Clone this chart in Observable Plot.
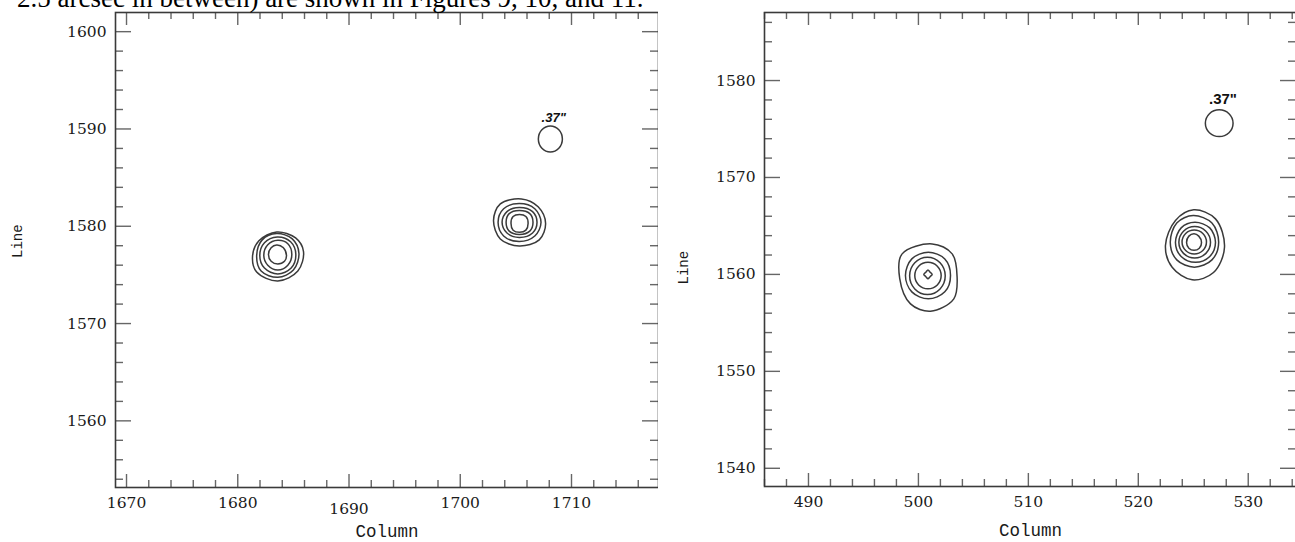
<!DOCTYPE html>
<html><head><meta charset="utf-8">
<script src="https://cdn.jsdelivr.net/npm/d3@7"></script>
<script src="https://cdn.jsdelivr.net/npm/@observablehq/plot@0.6"></script>
<style>
html,body{margin:0;padding:0;background:#fff;width:1295px;height:542px;overflow:hidden;position:relative}
#left{position:absolute;left:0;top:0;width:658px;height:542px;overflow:hidden}
#right{position:absolute;left:660px;top:0;width:640px;height:542px;overflow:hidden}
#caption{position:absolute;left:17px;top:-15.5px;font:27px/1 "Liberation Serif","Times New Roman",serif;white-space:nowrap;color:#000;z-index:2}
</style></head><body>
<div id="left"></div><div id="right"></div>
<div id="caption">2.5 arcsec in between) are shown in Figures 9, 10, and 11.</div>
<script>
// ---------- Left panel data (Column / Line) ----------
const leftXDomain = [1669.01, 1717.82];
const leftYDomain = [1553.15, 1601.97];
const leftXTicks = [1670, 1680, 1690, 1700, 1710];
const leftYTicks = [1560, 1570, 1580, 1590, 1600];
const leftLoweredTick = 1690;
// contours, each as [column, line] points: E, NE, N, NW, W, SW, S, SE
const leftSourceA = [
  [[1685.91,1577.4],[1685.2,1578.8],[1683.5,1579.41],[1681.9,1578.5],[1681.33,1576.95],[1681.7,1575.3],[1683.6,1574.38],[1685.4,1575.4]],
  [[1685.5,1577.2],[1684.9,1578.7],[1683.5,1579.25],[1682.2,1578.6],[1681.7,1577.0],[1682.1,1575.4],[1683.6,1574.75],[1685.0,1575.5]],
  [[1685.22,1577.1],[1684.75,1578.4],[1683.55,1578.9],[1682.4,1578.3],[1681.98,1577.0],[1682.4,1575.7],[1683.6,1575.1],[1684.8,1575.7]],
  [[1684.86,1577.1],[1684.5,1578.2],[1683.6,1578.55],[1682.7,1578.1],[1682.34,1577.0],[1682.7,1576.0],[1683.6,1575.5],[1684.5,1576.0]],
  [[1684.38,1577.0],[1684.1,1577.8],[1683.5,1578.08],[1683.0,1577.8],[1682.76,1577.1],[1683.0,1576.4],[1683.6,1576.12],[1684.2,1576.4]]
];
const leftSourceB = [
  [[1707.67,1580.3],[1707.0,1582.0],[1705.5,1582.81],[1703.6,1582.3],[1702.99,1580.6],[1703.6,1578.7],[1705.3,1577.97],[1707.1,1578.6]],
  [[1707.26,1580.4],[1706.7,1581.8],[1705.3,1582.34],[1703.9,1581.8],[1703.4,1580.4],[1703.9,1579.0],[1705.3,1578.44],[1706.7,1579.0]],
  [[1706.9,1580.4],[1706.5,1581.5],[1705.3,1581.93],[1704.2,1581.5],[1703.76,1580.4],[1704.2,1579.3],[1705.3,1578.85],[1706.5,1579.3]],
  [[1706.54,1580.4],[1706.25,1581.3],[1705.3,1581.62],[1704.4,1581.3],[1704.12,1580.4],[1704.4,1579.5],[1705.3,1579.16],[1706.25,1579.5]],
  [[1706.1,1580.3],[1705.9,1581.0],[1705.33,1581.2],[1704.75,1581.0],[1704.56,1580.3],[1704.75,1579.6],[1705.33,1579.38],[1705.9,1579.6]]
];
const leftBeam = [
  [[1709.18,1588.97],[1708.86,1589.92],[1708.1,1590.31],[1707.34,1589.92],[1707.02,1588.97],[1707.34,1588.02],[1708.1,1587.63],[1708.86,1588.02]]
];
const leftBeamLabel = [{col: 1708.4, line: 1590.75, text: '.37"'}];

// ---------- Right panel data ----------
const rightXDomain = [486.0, 534.39];
const rightYDomain = [1538.12, 1587.02];
const rightXTicks = [490, 500, 510, 520, 530];
const rightYTicks = [1540, 1550, 1560, 1570, 1580];
const rightSourceA = [
  [[503.52,1559.71],[503.07,1562.12],[501.25,1563.15],[498.52,1562.12],[498.30,1559.57],[499.28,1556.96],[501.10,1556.2],[503.22,1557.48]],
  [[502.92,1559.9],[502.4,1561.6],[500.9,1562.28],[499.4,1561.6],[498.82,1559.9],[499.4,1558.2],[500.9,1557.48],[502.4,1558.2]],
  [[502.44,1559.85],[501.97,1561.2],[500.82,1561.78],[499.67,1561.2],[499.2,1559.85],[499.67,1558.5],[500.82,1557.92],[501.97,1558.5]],
  [[502.07,1559.88],[501.72,1560.85],[500.87,1561.25],[500.02,1560.85],[499.67,1559.88],[500.02,1558.91],[500.87,1558.51],[501.72,1558.91]],
  [[501.25,1560.0],[501.06,1560.23],[500.87,1560.46],[500.68,1560.23],[500.49,1560.0],[500.68,1559.77],[500.87,1559.54],[501.06,1559.77]]
];
const rightSourceB = [
  [[527.84,1562.8],[527.02,1565.73],[525.04,1566.66],[523.38,1565.56],[522.47,1562.98],[523.08,1560.74],[524.9,1559.44],[526.84,1560.19]],
  [[527.31,1563.3],[526.7,1565.3],[525.0,1566.07],[523.5,1565.3],[522.91,1563.3],[523.5,1561.5],[525.1,1560.75],[526.7,1561.5]],
  [[527.02,1563.3],[526.5,1564.8],[525.15,1565.37],[523.9,1564.8],[523.38,1563.3],[523.9,1561.85],[525.2,1561.25],[526.5,1561.85]],
  [[526.57,1563.31],[526.15,1564.45],[525.13,1564.93],[524.11,1564.45],[523.69,1563.31],[524.11,1562.17],[525.13,1561.69],[526.15,1562.17]],
  [[526.2,1563.34],[525.87,1564.22],[525.09,1564.58],[524.31,1564.22],[523.98,1563.34],[524.31,1562.46],[525.09,1562.1],[525.87,1562.46]],
  [[525.75,1563.3],[525.5,1563.95],[525.07,1564.2],[524.6,1563.95],[524.39,1563.3],[524.6,1562.7],[525.07,1562.48],[525.55,1562.7]]
];
const rightBeam = [
  [[528.62,1575.6],[528.25,1576.58],[527.36,1576.98],[526.47,1576.58],[526.1,1575.6],[526.47,1574.62],[527.36,1574.22],[528.25,1574.62]]
];
const rightBeamLabel = [{col: 527.7, line: 1577.6, text: '.37"'}];

const xTitle = "Column";
const yTitle = "Line";

// ---------- drawing ----------
function toRows(groups, prefix) {
  return groups.flatMap((pts, i) => pts.map(([col, line]) => ({id: prefix + i, col, line})));
}
const TICK = "#666", FRAME = "#3a3a3a", INK = "#1a1a1a", CONT = "#3a3a3a";
const numFont = '"DejaVu Serif", serif';
const monoFont = '"Liberation Mono", "DejaVu Sans Mono", monospace';

function panel(o) {
  const fw = o.width - o.ml - o.mr, fh = o.height - o.mt - o.mb;
  const minorX = d3.range(Math.ceil(o.xDomain[0] / 2) * 2, o.xDomain[1], 2).filter(v => v % 10 !== 0);
  const minorY = d3.range(Math.ceil(o.yDomain[0] / 2) * 2, o.yDomain[1], 2).filter(v => v % 10 !== 0);
  const xMajL = 13, xMinL = 7, yMajL = 16, yMinL = 8;
  const tickStyle = {stroke: TICK, strokeWidth: 1.4};
  const normal = o.xTicks.filter(d => d !== o.lowered);
  const lowered = o.xTicks.filter(d => d === o.lowered);
  return Plot.plot({
    width: o.width, height: o.height,
    marginTop: o.mt, marginBottom: o.mb, marginLeft: o.ml, marginRight: o.mr,
    style: {background: "transparent", overflow: "visible"},
    x: {domain: o.xDomain, axis: null},
    y: {domain: o.yDomain, axis: null},
    marks: [
      Plot.tickX(o.xTicks, {x: d => d, insetTop: fh - xMajL, ...tickStyle}),
      Plot.tickX(minorX, {x: d => d, insetTop: fh - xMinL, ...tickStyle}),
      Plot.tickX(o.xTicks, {x: d => d, insetBottom: fh - xMajL, ...tickStyle}),
      Plot.tickX(minorX, {x: d => d, insetBottom: fh - xMinL, ...tickStyle}),
      Plot.tickY(o.yTicks, {y: d => d, insetRight: fw - yMajL, ...tickStyle}),
      Plot.tickY(minorY, {y: d => d, insetRight: fw - yMinL, ...tickStyle}),
      Plot.tickY(o.yTicks, {y: d => d, insetLeft: fw - yMajL, ...tickStyle}),
      Plot.tickY(minorY, {y: d => d, insetLeft: fw - yMinL, ...tickStyle}),
      Plot.frame({stroke: FRAME, strokeWidth: 1.6}),
      Plot.text(o.yTicks, {y: d => d, text: d => String(d), frameAnchor: "left", textAnchor: "end", dx: -9,
        fontSize: 15.5, fontFamily: numFont, fill: INK}),
      Plot.text(normal, {x: d => d, text: d => String(d), frameAnchor: "bottom", dy: 20.7,
        fontSize: 15.5, fontFamily: numFont, fill: INK}),
      Plot.text(lowered, {x: d => d, text: d => String(d), frameAnchor: "bottom", dy: 26.7,
        fontSize: 15.5, fontFamily: numFont, fill: INK}),
      Plot.text([xTitle], {text: d => d, frameAnchor: "bottom", dy: 49, fontSize: 17.5, fontFamily: monoFont, fill: INK}),
      Plot.text([yTitle], {text: d => d, frameAnchor: "left", dx: o.yTitleDx, dy: o.yTitleDy, rotate: -90,
        fontSize: 14, fontFamily: monoFont, fill: INK}),
      Plot.line(o.contours, {x: "col", y: "line", z: "id", curve: "catmull-rom-closed", stroke: CONT, strokeWidth: 1.5}),
      Plot.text(o.label, {x: "col", y: "line", text: "text", lineAnchor: "bottom", fontWeight: "bold",
        fontStyle: o.labelStyle, fontSize: o.labelSize, fontFamily: '"Liberation Sans", Arial, sans-serif', fill: "#111",
        letterSpacing: "-0.8px"})
    ]
  });
}

document.getElementById("left").append(panel({
  width: 658, height: 542, mt: 12, mb: 55, ml: 115, mr: 0,
  xDomain: leftXDomain, yDomain: leftYDomain, xTicks: leftXTicks, yTicks: leftYTicks, lowered: leftLoweredTick,
  contours: [...toRows(leftSourceA, "a"), ...toRows(leftSourceB, "b"), ...toRows(leftBeam, "m")],
  label: leftBeamLabel, labelStyle: "italic", labelSize: 13,
  yTitleDx: -98, yTitleDy: 8
}));
document.getElementById("right").append(panel({
  width: 640, height: 542, mt: 12, mb: 56, ml: 104, mr: 4,
  xDomain: rightXDomain, yDomain: rightYDomain, xTicks: rightXTicks, yTicks: rightYTicks, lowered: null,
  contours: [...toRows(rightSourceA, "a"), ...toRows(rightSourceB, "b"), ...toRows(rightBeam, "m")],
  label: rightBeamLabel, labelStyle: "normal", labelSize: 15,
  yTitleDx: -81, yTitleDy: 35
}));
</script>
</body></html>
